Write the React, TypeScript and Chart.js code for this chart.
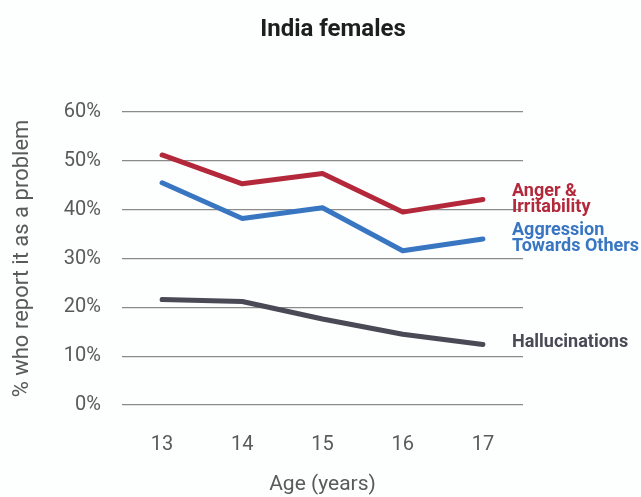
import React, { useEffect, useRef } from "react";
import { Chart, registerables } from "chart.js";

Chart.register(...registerables);

const ages = ["13", "14", "15", "16", "17"];
const angerIrritability = [51.2, 45.3, 47.4, 39.5, 42.1];
const aggressionOthers = [45.5, 38.2, 40.4, 31.6, 34.0];
const hallucinations = [21.6, 21.2, 17.6, 14.5, 12.4];
const seriesNames = [["Anger &", "Irritability"], ["Aggression", "Towards Others"], ["Hallucinations"]];
const yTicks = [0, 10, 20, 30, 40, 50, 60];
const chartTitle = "India females";

const FONT = "Roboto, 'Noto Sans', sans-serif";
const colors = ["#b3283a", "#3876c2", "#4a4a56"];
const labelDy = [-3, -4, 3];
const labelLineGap = 16;

const endLabels = {
  id: "endLabels",
  afterDatasetsDraw(chart: any) {
    const ctx = chart.ctx;
    ctx.save();
    ctx.font = `bold 18px ${FONT}`;
    ctx.textAlign = "left";
    ctx.textBaseline = "alphabetic";
    chart.data.datasets.forEach((ds: any, i: number) => {
      const meta = chart.getDatasetMeta(i);
      const pt = meta.data[meta.data.length - 1];
      ctx.fillStyle = colors[i];
      seriesNames[i].forEach((ln: string, j: number) => {
        ctx.fillText(ln, chart.chartArea.right - 11, pt.y + labelDy[i] + j * labelLineGap);
      });
    });
    ctx.restore();
  },
  afterDraw(chart: any) {
    const ctx = chart.ctx;
    ctx.save();
    ctx.font = `bold 24px ${FONT}`;
    ctx.fillStyle = "#1e1e1e";
    ctx.textAlign = "center";
    ctx.textBaseline = "alphabetic";
    ctx.fillText(chartTitle, 333, 36);
    ctx.restore();
  },
};

export default function App() {
  const ref = useRef<HTMLCanvasElement>(null);
  useEffect(() => {
    document.body.style.margin = "0";
    const chart = new Chart(ref.current!, {
      type: "line",
      data: {
        labels: ages,
        datasets: [angerIrritability, aggressionOthers, hallucinations].map((d, i) => ({
          label: seriesNames[i].join(" "),
          data: d,
          yAxisID: "y",
          borderColor: colors[i],
          backgroundColor: colors[i],
          borderWidth: 5,
          pointRadius: 0,
          tension: 0,
          borderCapStyle: "round",
          borderJoinStyle: "round",
        })),
      },
      options: {
        responsive: false,
        animation: false,
        layout: { padding: { left: 9, right: 0, top: 112, bottom: 0 } },
        plugins: {
          legend: { display: false },
          tooltip: { enabled: false },
          title: { display: false },
        },
        scales: {
          x: {
            offset: true,
            afterFit: (s: any) => {
              s.height = 92;
            },
            grid: { display: false, drawTicks: false },
            border: { display: false },
            ticks: { color: "#5a5a5a", font: { family: FONT, size: 20 }, padding: 28 },
            title: {
              display: true,
              text: "Age (years)",
              color: "#5a5a5a",
              font: { family: FONT, size: 21 },
              padding: { top: 0, bottom: 0 },
            },
          },
          y: {
            min: 0,
            max: 60,
            afterBuildTicks: (s: any) => {
              s.ticks = yTicks.map((v) => ({ value: v }));
            },
            afterFit: (s: any) => {
              s.width = 113;
            },
            grid: { color: "#8a8a8a", lineWidth: 1.2, drawTicks: false },
            border: { display: false },
            ticks: {
              color: "#5a5a5a",
              font: { family: FONT, size: 20 },
              padding: 21,
              callback: (v: any) => v + "%",
            },
            title: {
              display: true,
              text: "% who report it as a problem",
              color: "#5a5a5a",
              font: { family: FONT, size: 22 },
              padding: { top: 0, bottom: 0 },
            },
          },
          y2: {
            position: "right",
            afterFit: (s: any) => {
              s.width = 118;
            },
            grid: { display: false, drawTicks: false },
            border: { display: false },
            ticks: { display: false },
          },
        },
      },
      plugins: [endLabels],
    } as any);
    return () => chart.destroy();
  }, []);
  return <canvas ref={ref} width={641} height={497} style={{ display: "block", background: "#fdfefe" }} />;
}
